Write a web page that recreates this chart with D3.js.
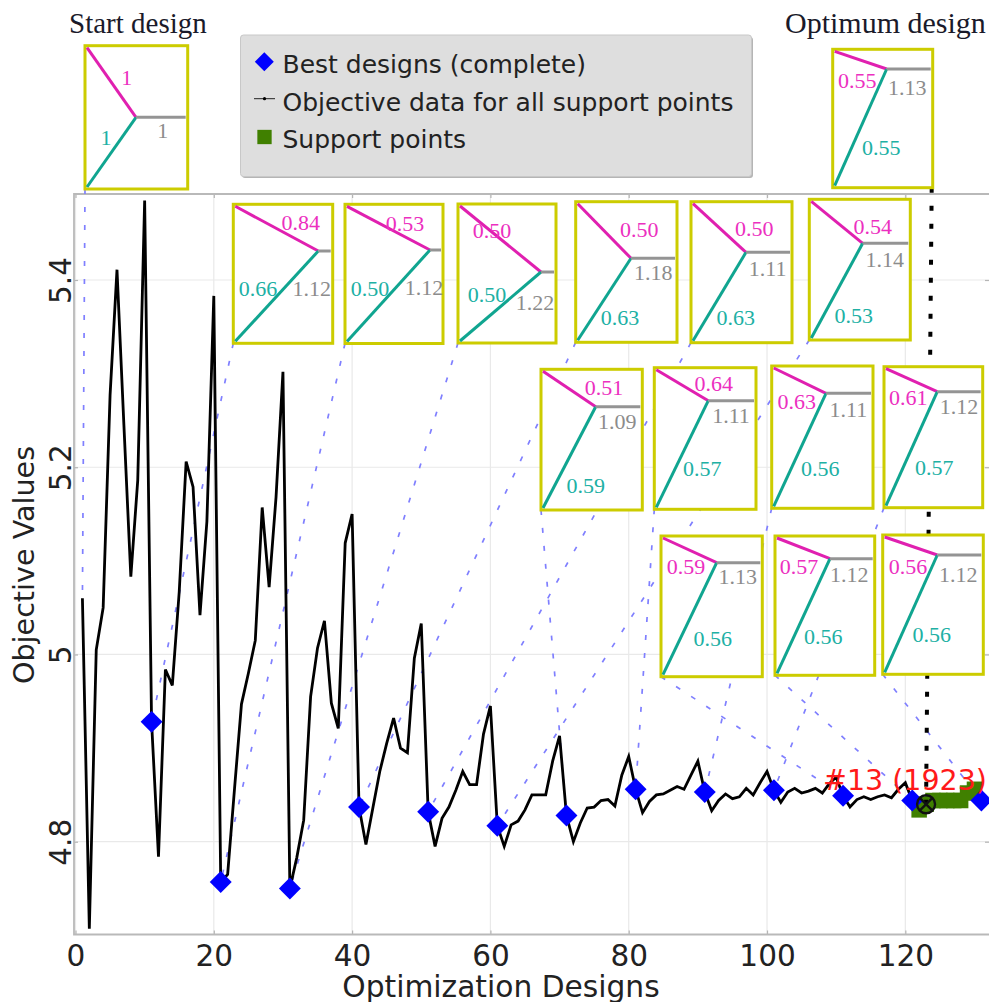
<!DOCTYPE html>
<html>
<head>
<meta charset="utf-8">
<script src="https://d3js.org/d3.v7.min.js"></script>
<style>
body { margin: 0; background: #fff; }
svg { display: block; }
.ax text { font-family: "DejaVu Sans"; font-size: 29.5px; fill: #222; }
.lbl { font-family: "Liberation Serif"; font-size: 22px; text-anchor: middle; }
</style>
</head>
<body>
<div id="chart"></div>
<script>
// objective value per design, 1..131
var designs = d3.range(1, 132);
var objective = [
  5.06, 4.707, 5.005, 5.05, 5.277, 5.411, 5.245, 5.083, 5.186, 5.485,
  4.928, 4.784, 4.984, 4.967, 5.067, 5.206, 5.179, 5.042, 5.142, 5.383,
  4.757, 4.765, 4.857, 4.947, 4.98, 5.015, 5.157, 5.072, 5.168, 5.302,
  4.75, 4.783, 4.823, 4.955, 5.007, 5.036, 4.948, 4.921, 5.119, 5.15,
  4.837, 4.797, 4.836, 4.875, 4.905, 4.932, 4.9, 4.895, 4.996, 5.033,
  4.832, 4.795, 4.825, 4.837, 4.855, 4.875, 4.861, 4.861, 4.915, 4.945,
  4.817, 4.795, 4.818, 4.822, 4.834, 4.85, 4.85, 4.85, 4.886, 4.913,
  4.828, 4.8, 4.82, 4.836, 4.837, 4.844, 4.845, 4.838, 4.871, 4.891,
  4.856, 4.831, 4.843, 4.85, 4.851, 4.855, 4.859, 4.856, 4.871, 4.886,
  4.853, 4.833, 4.844, 4.851, 4.846, 4.848, 4.857, 4.85, 4.863, 4.875,
  4.855, 4.842, 4.853, 4.857, 4.852, 4.854, 4.857, 4.852, 4.862, 4.869,
  4.849, 4.837, 4.845, 4.848, 4.845, 4.848, 4.85, 4.847, 4.856, 4.863,
  4.844, 4.834, 4.84, 4.844, 4.844, 4.844, 4.844, 4.844, 4.852, 4.856,
  4.844
];
var bestDesigns = [11, 21, 31, 41, 51, 61, 71, 81, 91, 101, 111, 121, 131];
var supportDesigns = [122, 123, 124, 125, 126, 127, 128, 129, 130];
var optimumDesign = 123;
var optimumLabel = "#13 (1923)";

var xTicks = [0, 20, 40, 60, 80, 100, 120];
var yTicks = [4.8, 5, 5.2, 5.4];
var legendLabels = ["Best designs (complete)", "Objective data for all support points", "Support points"];

// design variables shown in the small sketches: first is the start design, last the optimum
var insetTop = ["1", "0.84", "0.53", "0.50", "0.50", "0.50", "0.54", "0.51", "0.64", "0.63", "0.61", "0.59", "0.57", "0.56", "0.55"];
var insetLow = ["1", "0.66", "0.50", "0.50", "0.63", "0.63", "0.53", "0.59", "0.57", "0.56", "0.57", "0.56", "0.56", "0.56", "0.55"];
var insetMid = ["1", "1.12", "1.12", "1.22", "1.18", "1.11", "1.14", "1.09", "1.11", "1.11", "1.12", "1.13", "1.12", "1.12", "1.13"];
var insetDesign = [1, 11, 21, 31, 41, 51, 61, 71, 81, 91, 101, 111, 121, 131, 123];

// sketch placement on the page
var insetBox = [
  [85, 45.7, 187.7, 189], [233.3, 204.3, 332.7, 343.3], [345, 204.3, 443, 343.5], [458, 204, 556, 343],
  [575.7, 201.7, 677, 342.3], [691, 201.7, 792, 342.7], [809.3, 199.3, 910.3, 340],
  [541, 369.3, 642.3, 510], [654.3, 367.7, 756, 509.3], [771.7, 366, 873, 508.3], [884, 366.7, 982.7, 507.7],
  [661, 536, 762.3, 676.7], [775, 536, 874.7, 675.3], [882.7, 535, 983.3, 674.3],
  [832.7, 49.3, 932.7, 187.7]
];
var insetJoint = [
  [136, 117.3], [318.3, 251], [430, 250], [541, 272],
  [631, 258.3], [746, 252.3], [862.7, 243.3],
  [595.7, 406.7], [708.3, 400.7], [826, 393.3], [937.3, 391.7],
  [716.7, 562.7], [830, 558.7], [937.3, 555],
  [886.7, 69]
];
var insetTopPos = [
  [126.7, 77], [300.7, 222.7], [405, 223], [492, 230],
  [639.3, 229.3], [754.3, 228], [872.7, 226.7],
  [604, 387.3], [713.7, 383.7], [796.7, 401.3], [908.3, 397.3],
  [686, 566.7], [799, 566.7], [908, 566.7],
  [857.3, 80]
];
var insetLowPos = [
  [106, 137], [258, 288.3], [370, 288], [487, 294],
  [620, 317.3], [735.7, 317.3], [853.7, 315],
  [585.7, 485], [702.3, 468.7], [820.3, 468.7], [934.3, 467.7],
  [712.7, 638.3], [823.3, 636], [931.7, 634.7],
  [881.3, 147.7]
];
var insetMidPos = [
  [162.7, 130.7], [311.7, 288], [424, 287], [535, 302],
  [653.3, 272.7], [767.7, 268], [884.7, 259.3],
  [617.3, 421.7], [731, 415.3], [848.3, 409.3], [959, 406.7],
  [737.7, 576], [849.3, 574.3], [958.3, 574],
  [907.3, 87.3]
];

var width = 989, height = 1002;
var plotLeft = 74, plotTop = 194, plotBottom = 934.5;

var svg = d3.select("#chart").append("svg")
    .attr("width", width)
    .attr("height", height);

var x = d3.scaleLinear().domain([0, 132]).range([75.5, 988.3]);
var y = d3.scaleLinear().domain([4.8, 5.4]).range([841.7, 280]);
var valueOf = function (d) { return objective[d - 1]; };

// grid
svg.append("g").selectAll("line").data(xTicks).enter().append("line")
    .attr("x1", d => x(d)).attr("x2", d => x(d))
    .attr("y1", plotTop).attr("y2", plotBottom)
    .attr("stroke", "#e9e9e9").attr("stroke-width", 1.2);
svg.append("g").selectAll("line").data(yTicks).enter().append("line")
    .attr("x1", plotLeft).attr("x2", width)
    .attr("y1", d => y(d)).attr("y2", d => y(d))
    .attr("stroke", "#e9e9e9").attr("stroke-width", 1.2);

// axes
var xAxis = svg.append("g").attr("class", "ax")
    .attr("transform", "translate(0," + plotBottom + ")")
    .call(d3.axisBottom(x).tickValues(xTicks).tickFormat(d3.format("d")).tickSizeInner(-4).tickSizeOuter(0).tickPadding(11));
xAxis.select(".domain").remove();
xAxis.selectAll("line").attr("stroke", "#b5b5b5").attr("stroke-width", 1.2);

var xAxisTop = svg.append("g")
    .attr("transform", "translate(0," + plotTop + ")")
    .call(d3.axisTop(x).tickValues(xTicks).tickFormat("").tickSizeInner(-4).tickSizeOuter(0));
xAxisTop.select(".domain").remove();
xAxisTop.selectAll("line").attr("stroke", "#b5b5b5").attr("stroke-width", 1.2);

var yAxis = svg.append("g").attr("class", "ax")
    .attr("transform", "translate(" + plotLeft + ",0)")
    .call(d3.axisLeft(y).tickValues(yTicks).tickFormat(d => d === 5 ? "5" : d3.format(".1f")(d)).tickSizeInner(-4).tickSizeOuter(0));
yAxis.select(".domain").remove();
yAxis.selectAll("line").attr("stroke", "#b5b5b5").attr("stroke-width", 1.2);
yAxis.selectAll("text")
    .attr("text-anchor", "middle")
    .attr("x", null).attr("dy", null)
    .attr("transform", "translate(-3.5,0) rotate(-90)");

var yAxisRight = svg.append("g")
    .attr("transform", "translate(" + width + ",0)")
    .call(d3.axisRight(y).tickValues(yTicks).tickFormat("").tickSizeInner(-4).tickSizeOuter(0));
yAxisRight.select(".domain").remove();
yAxisRight.selectAll("line").attr("stroke", "#b5b5b5").attr("stroke-width", 1.2);

// frame
svg.append("path")
    .attr("d", "M" + width + "," + plotTop + "H" + plotLeft + "V" + plotBottom + "H" + width)
    .attr("fill", "none").attr("stroke", "#b9b9b9").attr("stroke-width", 1.8);

// axis titles
svg.append("text")
    .attr("x", 501).attr("y", 996.5)
    .attr("text-anchor", "middle")
    .attr("font-family", "DejaVu Sans").attr("font-size", 29.7).attr("fill", "#222")
    .text("Optimization Designs");
svg.append("text")
    .attr("transform", "translate(34,565) rotate(-90)")
    .attr("text-anchor", "middle")
    .attr("font-family", "DejaVu Sans").attr("font-size", 28.6).attr("fill", "#222")
    .text("Objective Values");

// connectors from the sketches to their designs
svg.append("g").selectAll("line").data(insetBox.slice(0, 14)).enter().append("line")
    .attr("x1", d => d[0]).attr("y1", d => d[3])
    .attr("x2", (d, i) => x(insetDesign[i]))
    .attr("y2", (d, i) => y(valueOf(insetDesign[i])))
    .attr("stroke", "#7f7fff").attr("stroke-width", 1.7)
    .attr("stroke-dasharray", "5 13");

var line = d3.line().x(d => x(d)).y(d => y(valueOf(d)));
svg.append("path")
    .datum(designs)
    .attr("d", line)
    .attr("fill", "none")
    .attr("stroke", "#000").attr("stroke-width", 2.8)
    .attr("stroke-linejoin", "miter");

// support points
svg.append("g").selectAll("path").data(supportDesigns).enter().append("path")
    .attr("d", d3.symbol(d3.symbolSquare, 240))
    .attr("transform", d => "translate(" + x(d) + "," + y(valueOf(d)) + ")")
    .attr("fill", "#408000");

// best designs
svg.append("g").selectAll("path").data(bestDesigns).enter().append("path")
    .attr("d", d3.symbol(d3.symbolSquare, 240))
    .attr("transform", d => "translate(" + x(d) + "," + y(valueOf(d)) + ") rotate(45)")
    .attr("fill", "#0000ff");

// optimum marker and dotted link up to its sketch
var optBox = insetBox[14];
svg.append("line")
    .attr("x1", optBox[2] - 1).attr("y1", optBox[3])
    .attr("x2", x(optimumDesign)).attr("y2", y(valueOf(optimumDesign)))
    .attr("stroke", "#000").attr("stroke-width", 4)
    .attr("stroke-dasharray", "5 13");

var optMark = svg.append("g")
    .attr("transform", "translate(" + x(optimumDesign) + "," + y(valueOf(optimumDesign)) + ")")
    .attr("fill", "none").attr("stroke", "#111").attr("stroke-width", 2.4);
optMark.append("circle").attr("r", 9);
optMark.append("path").attr("d", "M-6.4,-6.4L6.4,6.4M-6.4,6.4L6.4,-6.4");

// sketches
var insets = svg.append("g").selectAll("g").data(insetBox).enter().append("g");
insets.append("rect")
    .attr("x", d => d[0]).attr("y", d => d[1])
    .attr("width", d => d[2] - d[0]).attr("height", d => d[3] - d[1])
    .attr("fill", "#fff").attr("stroke", "#cccc00").attr("stroke-width", 3);
insets.append("line")
    .attr("x1", d => d[0] + 2).attr("y1", d => d[1] + 2)
    .attr("x2", (d, i) => insetJoint[i][0]).attr("y2", (d, i) => insetJoint[i][1])
    .attr("stroke", "#e020b0").attr("stroke-width", 3);
insets.append("line")
    .attr("x1", d => d[0] + 2).attr("y1", d => d[3] - 2)
    .attr("x2", (d, i) => insetJoint[i][0]).attr("y2", (d, i) => insetJoint[i][1])
    .attr("stroke", "#10a590").attr("stroke-width", 3);
insets.append("line")
    .attr("x1", (d, i) => insetJoint[i][0]).attr("y1", (d, i) => insetJoint[i][1])
    .attr("x2", d => d[2] - 2).attr("y2", (d, i) => insetJoint[i][1])
    .attr("stroke", "#949494").attr("stroke-width", 3);
insets.append("text").attr("class", "lbl")
    .attr("x", (d, i) => insetTopPos[i][0]).attr("y", (d, i) => insetTopPos[i][1] + 7.5)
    .attr("fill", "#ec2fc0").text((d, i) => insetTop[i]);
insets.append("text").attr("class", "lbl")
    .attr("x", (d, i) => insetLowPos[i][0]).attr("y", (d, i) => insetLowPos[i][1] + 7.5)
    .attr("fill", "#20b0a4").text((d, i) => insetLow[i]);
insets.append("text").attr("class", "lbl")
    .attr("x", (d, i) => insetMidPos[i][0]).attr("y", (d, i) => insetMidPos[i][1] + 7.5)
    .attr("fill", "#8c8c8c").text((d, i) => insetMid[i]);

// headings over the first and last sketch
svg.append("text").attr("x", 69).attr("y", 33)
    .attr("font-family", "Liberation Serif").attr("font-size", 29).attr("fill", "#1a1a2a")
    .text("Start design");
svg.append("text").attr("x", 785).attr("y", 33)
    .attr("font-family", "Liberation Serif").attr("font-size", 30).attr("fill", "#1a1a2a")
    .text("Optimum design");

// legend
svg.append("rect").attr("x", 242).attr("y", 37).attr("width", 511).attr("height", 141)
    .attr("rx", 3).attr("fill", "#b5b5b5");
svg.append("rect").attr("x", 240.5).attr("y", 35).attr("width", 511).attr("height", 141.5)
    .attr("rx", 3).attr("fill", "#dedede").attr("stroke", "#c8c8c8");
svg.append("path")
    .attr("d", d3.symbol(d3.symbolSquare, 180))
    .attr("transform", "translate(264.3,61.7) rotate(45)")
    .attr("fill", "#0000ff");
svg.append("line").attr("x1", 254).attr("x2", 275).attr("y1", 98.7).attr("y2", 98.7)
    .attr("stroke", "#222").attr("stroke-width", 1);
svg.append("circle").attr("cx", 264.5).attr("cy", 98.7).attr("r", 1.6).attr("fill", "#000");
svg.append("path")
    .attr("d", d3.symbol(d3.symbolSquare, 205))
    .attr("transform", "translate(264.5,137)")
    .attr("fill", "#408000");
svg.append("g").selectAll("text").data(legendLabels).enter().append("text")
    .attr("x", 282.5)
    .attr("y", (d, i) => [73.3, 111, 148.3][i])
    .attr("font-family", "DejaVu Sans").attr("font-size", 25).attr("fill", "#222")
    .text(d => d);

// optimum label
svg.append("text")
    .attr("x", 823).attr("y", 789.5)
    .attr("font-family", "DejaVu Sans").attr("font-size", 28.5).attr("fill", "#ff1a1a")
    .text(optimumLabel);
</script>
</body>
</html>
